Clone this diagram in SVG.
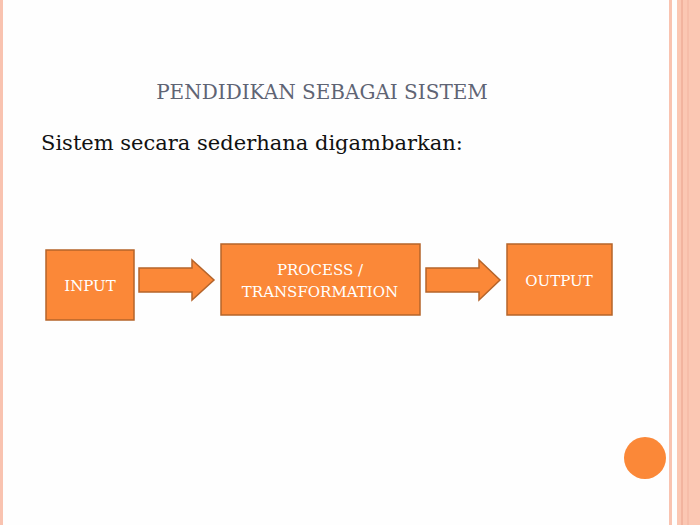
<svg xmlns="http://www.w3.org/2000/svg" width="700" height="525" viewBox="0 0 700 525">
<style>
.box{fill:#fb8838;stroke:#b5642a;stroke-width:1.5}
.arr{fill:#fb8838;stroke:#b5642a;stroke-width:1.5}
.lbl{font-family:"DejaVu Serif",serif;font-size:15px;fill:#ffffff;text-anchor:middle}
.ttl{font-family:"DejaVu Serif",serif;font-size:20px;fill:#5f6474;text-anchor:middle}
.body{font-family:"DejaVu Serif",serif;font-size:21px;fill:#111111}
</style>
<rect width="700" height="525" fill="#fefefe"/>
<rect x="0" y="0" width="3" height="525" fill="#f9c3b0"/>
<rect x="669" y="0" width="3" height="525" fill="#f9c3b0"/>
<rect x="677" y="0" width="23" height="525" fill="#fbc7b3"/>
<line x1="682" y1="0" x2="682" y2="525" stroke="#e9a08a" stroke-width="1"/>
<line x1="688" y1="0" x2="688" y2="525" stroke="#f2b39f" stroke-width="1"/>
<circle cx="645" cy="458" r="21" fill="#fb8838"/>
<text class="ttl" x="322" y="99">PENDIDIKAN SEBAGAI SISTEM</text>
<text class="body" x="41" y="150">Sistem secara sederhana digambarkan:</text>
<g id="connectors">
<path class="arr" d="M139,268 H192 V260 L214,280 L192,300 V292 H139 Z"/>
<path class="arr" d="M426,268 H479 V260 L500,280 L479,300 V292 H426 Z"/>
</g>
<g id="input"><rect class="box" x="46" y="250" width="88" height="70"/><text class="lbl" x="90" y="291">INPUT</text></g>
<g id="process"><rect class="box" x="221" y="244" width="199" height="71"/><text class="lbl" x="320" y="275">PROCESS /</text><text class="lbl" x="320" y="297">TRANSFORMATION</text></g>
<g id="output"><rect class="box" x="507" y="244" width="105" height="71"/><text class="lbl" x="559" y="286">OUTPUT</text></g>
</svg>
